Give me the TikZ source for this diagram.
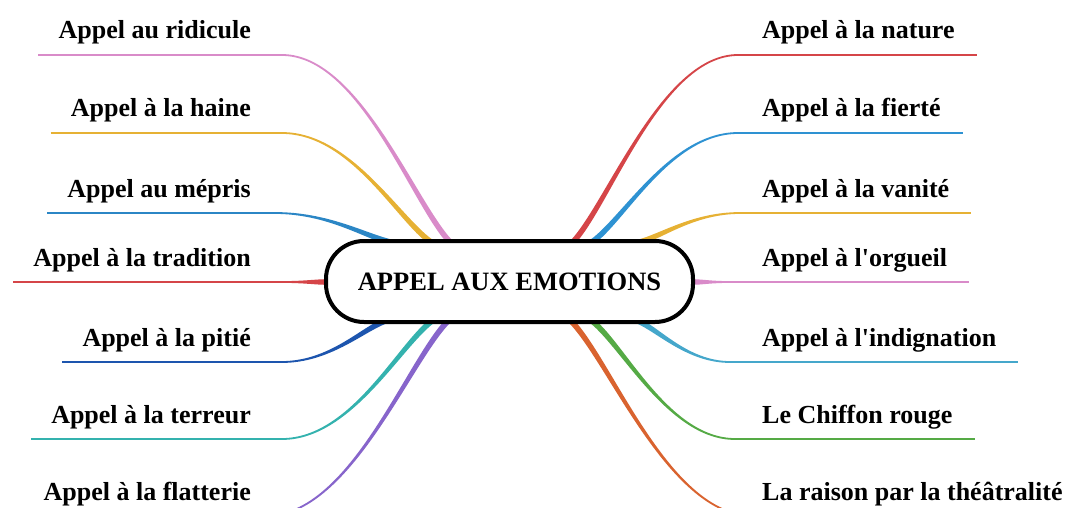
\documentclass[tikz,border=0pt]{standalone}
\usepackage{fontspec}
\setmainfont{Liberation Serif}[Ligatures=TeXOff]
\usetikzlibrary{calc,backgrounds}
\definecolor{MindPink}{HTML}{D98BC9}
\definecolor{MindGold}{HTML}{E6B134}
\definecolor{MindBlue}{HTML}{2B86C5}
\definecolor{MindRed}{HTML}{D54548}
\definecolor{MindNavy}{HTML}{1D55AE}
\definecolor{MindTeal}{HTML}{34B2AE}
\definecolor{MindPurple}{HTML}{8765CB}
\definecolor{MindSky}{HTML}{2E92D2}
\definecolor{MindCyan}{HTML}{45A7CB}
\definecolor{MindGreen}{HTML}{55AA45}
\definecolor{MindOrange}{HTML}{D9632F}
\tikzset{
  hub/.style={draw=black, line width=4pt, fill=white, rounded corners=38pt,
              minimum width=367pt, minimum height=81pt, inner sep=0pt,
              font=\fontsize{26.5}{30}\selectfont\bfseries},
  leftlabel/.style={anchor=base east, inner sep=0pt,
                    font=\fontsize{26}{30}\selectfont\bfseries},
  rightlabel/.style={anchor=base west, inner sep=0pt,
                     font=\fontsize{26}{30}\selectfont\bfseries},
  underline/.style={line width=1.8pt},
}
% tapered branch: #1 colour, #2 outer bend, #3 root on the hub
\newcommand{\twig}[3]{%
  \fill[#1] let \p1=(#2), \p2=(#3),
    \n1={\x2-\x1}, \n2={\y2-\y1},
    \n3={veclen(0.22*\n1,0.21*\n2)},
    \n4={-2.8*0.21*\n2/\n3}, \n5={2.8*0.22*\n1/\n3},
    \n6={0.9*sign(\n1)} in
    ({\x1},{\y1+\n6})
      .. controls ({\x1+0.46*\n1},{\y1+\n6}) and ({\x2-0.22*\n1+\n4},{\y2-0.21*\n2+\n5})
      .. ({\x2+\n4},{\y2+\n5})
    -- ({\x2-\n4},{\y2-\n5})
      .. controls ({\x2-0.22*\n1-\n4},{\y2-0.21*\n2-\n5}) and ({\x1+0.46*\n1},{\y1-\n6})
      .. ({\x1},{\y1-\n6}) -- cycle;}

\begin{document}
\begin{tikzpicture}[x=1pt, y=-1pt]
  \useasboundingbox (0,0) rectangle (1075,508);

  \node[hub] (hub) at (509.5,281.5) {APPEL AUX EMOTIONS};

  % left labels
  \node[leftlabel] (ridicule)  at (251,39)  {Appel au ridicule};
  \node[leftlabel] (haine)     at (251,117) {Appel à la haine};
  \node[leftlabel] (mepris)    at (251,197) {Appel au mépris};
  \node[leftlabel] (tradition) at (251,266) {Appel à la tradition};
  \node[leftlabel] (pitie)     at (251,346) {Appel à la pitié};
  \node[leftlabel] (terreur)   at (251,423) {Appel à la terreur};
  \node[leftlabel] (flatterie) at (251,500) {Appel à la flatterie};

  % right labels
  \node[rightlabel] (nature)      at (762,39)  {Appel à la nature};
  \node[rightlabel] (fierte)      at (762,117) {Appel à la fierté};
  \node[rightlabel] (vanite)      at (762,197) {Appel à la vanité};
  \node[rightlabel] (orgueil)     at (762,266) {Appel à l'orgueil};
  \node[rightlabel] (indignation) at (762,346) {Appel à l'indignation};
  \node[rightlabel] (chiffon)     at (762,423) {Le Chiffon rouge};
  \node[rightlabel] (theatre)     at (762,500) {La raison par la théâtralité};

  % bends and roots
  \coordinate (ridiculeBend)  at (282,55);
  \coordinate (haineBend)     at (282,133);
  \coordinate (meprisBend)    at (275,213);
  \coordinate (traditionBend) at (284,282);
  \coordinate (pitieBend)     at (282,362);
  \coordinate (terreurBend)   at (282,439);
  \coordinate (flatterieBend) at (266,516);
  \coordinate (natureBend)      at (738,55);
  \coordinate (fierteBend)      at (738,133);
  \coordinate (vaniteBend)      at (740,213);
  \coordinate (orgueilBend)     at (728,282);
  \coordinate (indignationBend) at (730,362);
  \coordinate (chiffonBend)     at (735,439);
  \coordinate (theatreBend)     at (753,516);

  \coordinate (ridiculeRoot)  at ($(hub.north)+(-59.5,3)$);
  \coordinate (haineRoot)     at ($(hub.north)+(-78.5,3)$);
  \coordinate (meprisRoot)    at ($(hub.north)+(-119.5,3)$);
  \coordinate (traditionRoot) at ($(hub.west)+(2,0.5)$);
  \coordinate (pitieRoot)     at ($(hub.south)+(-124.5,-3)$);
  \coordinate (terreurRoot)   at ($(hub.south)+(-77.5,-3)$);
  \coordinate (flatterieRoot) at ($(hub.south)+(-61.5,-3)$);
  \coordinate (natureRoot)      at ($(hub.north)+(63.5,3)$);
  \coordinate (fierteRoot)      at ($(hub.north)+(82.5,3)$);
  \coordinate (vaniteRoot)      at ($(hub.north)+(130.5,3)$);
  \coordinate (orgueilRoot)     at ($(hub.east)+(-2,0.5)$);
  \coordinate (indignationRoot) at ($(hub.south)+(128.5,-3)$);
  \coordinate (chiffonRoot)     at ($(hub.south)+(82.5,-3)$);
  \coordinate (theatreRoot)     at ($(hub.south)+(61.5,-3)$);

  \begin{scope}[on background layer]
    % underlines
    \draw[underline, MindPink]   ($(ridicule.base west |- ridiculeBend)+(-20,0)$) -- (ridiculeBend);
    \draw[underline, MindGold]   ($(haine.base west |- haineBend)+(-20,0)$) -- (haineBend);
    \draw[underline, MindBlue]   ($(mepris.base west |- meprisBend)+(-20,0)$) -- (meprisBend);
    \draw[underline, MindRed]    ($(tradition.base west |- traditionBend)+(-20,0)$) -- (traditionBend);
    \draw[underline, MindNavy]   ($(pitie.base west |- pitieBend)+(-20,0)$) -- (pitieBend);
    \draw[underline, MindTeal]   ($(terreur.base west |- terreurBend)+(-20,0)$) -- (terreurBend);
    \draw[underline, MindRed]    (natureBend) -- ($(nature.base east |- natureBend)+(22,0)$);
    \draw[underline, MindSky]    (fierteBend) -- ($(fierte.base east |- fierteBend)+(22,0)$);
    \draw[underline, MindGold]   (vaniteBend) -- ($(vanite.base east |- vaniteBend)+(22,0)$);
    \draw[underline, MindPink]   (orgueilBend) -- ($(orgueil.base east |- orgueilBend)+(22,0)$);
    \draw[underline, MindCyan]   (indignationBend) -- ($(indignation.base east |- indignationBend)+(22,0)$);
    \draw[underline, MindGreen]  (chiffonBend) -- ($(chiffon.base east |- chiffonBend)+(22,0)$);

    % branches into the hub
    \twig{MindPink}{ridiculeBend}{ridiculeRoot}
    \twig{MindGold}{haineBend}{haineRoot}
    \twig{MindBlue}{meprisBend}{meprisRoot}
    \twig{MindRed}{traditionBend}{traditionRoot}
    \twig{MindNavy}{pitieBend}{pitieRoot}
    \twig{MindTeal}{terreurBend}{terreurRoot}
    \twig{MindPurple}{flatterieBend}{flatterieRoot}
    \twig{MindRed}{natureBend}{natureRoot}
    \twig{MindSky}{fierteBend}{fierteRoot}
    \twig{MindGold}{vaniteBend}{vaniteRoot}
    \twig{MindPink}{orgueilBend}{orgueilRoot}
    \twig{MindCyan}{indignationBend}{indignationRoot}
    \twig{MindGreen}{chiffonBend}{chiffonRoot}
    \twig{MindOrange}{theatreBend}{theatreRoot}
  \end{scope}
\end{tikzpicture}
\end{document}
